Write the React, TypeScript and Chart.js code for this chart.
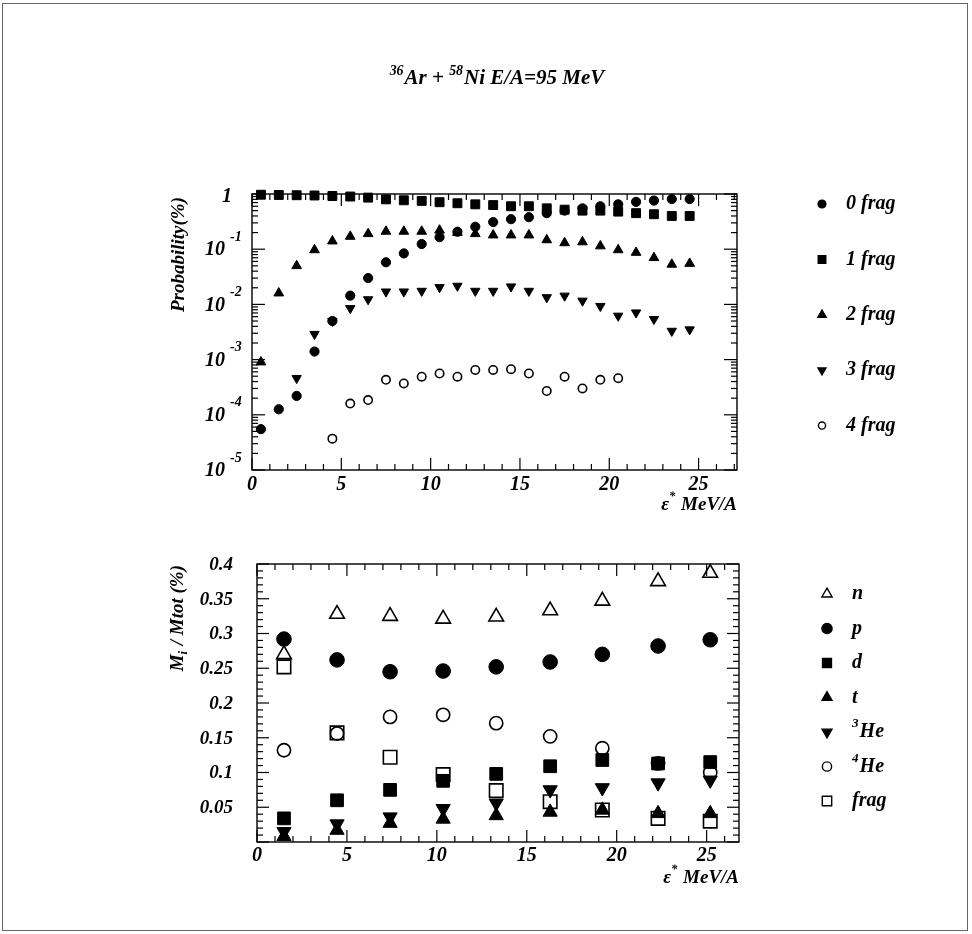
import React, { useEffect, useRef } from "react";
import { Chart, registerables } from "chart.js";
Chart.register(...registerables);

const FONT = '"Liberation Serif", "Times New Roman", serif';

// ---------- top panel data (probability vs excitation energy) ----------
const TOP_X = [0.5, 1.5, 2.5, 3.5, 4.5, 5.5, 6.5, 7.5, 8.5, 9.5, 10.5, 11.5, 12.5, 13.5, 14.5, 15.5, 16.5, 17.5, 18.5, 19.5, 20.5, 21.5, 22.5, 23.5, 24.5];
const FRAG_0 = [5.5e-5, 1.26e-4, 2.2e-4, 1.4e-3, 5.0e-3, 0.0144, 0.03, 0.058, 0.084, 0.124, 0.165, 0.207, 0.255, 0.31, 0.35, 0.38, 0.45, 0.5, 0.55, 0.6, 0.65, 0.72, 0.76, 0.81, 0.81];
const FRAG_1 = [0.97, 0.96, 0.95, 0.94, 0.92, 0.9, 0.86, 0.8, 0.77, 0.75, 0.71, 0.68, 0.65, 0.63, 0.6, 0.6, 0.55, 0.52, 0.5, 0.5, 0.48, 0.45, 0.43, 0.4, 0.4];
const FRAG_2 = [9e-4, 0.016, 0.05, 0.097, 0.14, 0.17, 0.19, 0.21, 0.21, 0.21, 0.22, 0.2, 0.19, 0.18, 0.18, 0.18, 0.147, 0.13, 0.135, 0.114, 0.097, 0.087, 0.07, 0.053, 0.055];
const FRAG_3 = [null, null, 4.6e-4, 2.9e-3, 5.0e-3, 8.5e-3, 0.0123, 0.017, 0.017, 0.0175, 0.0204, 0.0216, 0.0175, 0.0175, 0.021, 0.0175, 0.0134, 0.0143, 0.0116, 0.0093, 0.0062, 0.0071, 0.0054, 0.0033, 0.0035];
const FRAG_4 = [null, null, null, null, 3.7e-5, 1.6e-4, 1.85e-4, 4.3e-4, 3.7e-4, 4.9e-4, 5.6e-4, 4.9e-4, 6.5e-4, 6.5e-4, 6.7e-4, 5.6e-4, 2.7e-4, 4.9e-4, 3.0e-4, 4.3e-4, 4.6e-4, null, null, null, null];
const TOP_LABELS = ["0 frag", "1 frag", "2 frag", "3 frag", "4 frag"];
const TOP_X_TICKS = [0, 5, 10, 15, 20, 25];
const TOP_Y_EXPONENTS = [-1, -2, -3, -4, -5];

// ---------- bottom panel data (multiplicity fractions) ----------
const BOT_X = [1.5, 4.45, 7.4, 10.35, 13.3, 16.3, 19.2, 22.3, 25.2];
const M_N = [0.27, 0.328, 0.325, 0.321, 0.324, 0.333, 0.347, 0.375, 0.387];
const M_P = [0.292, 0.262, 0.245, 0.246, 0.252, 0.259, 0.27, 0.282, 0.291];
const M_D = [0.034, 0.06, 0.075, 0.088, 0.098, 0.109, 0.118, 0.113, 0.115];
const M_T = [0.008, 0.017, 0.027, 0.033, 0.038, 0.043, 0.046, 0.041, 0.041];
const M_HE3 = [0.015, 0.026, 0.036, 0.048, 0.056, 0.075, 0.078, 0.085, 0.089];
const M_HE4 = [0.132, 0.156, 0.18, 0.183, 0.171, 0.152, 0.135, 0.113, 0.1];
const M_FRAG = [0.252, 0.157, 0.122, 0.097, 0.074, 0.058, 0.046, 0.034, 0.03];
const BOT_LABELS = ["n", "p", "d", "t", "3He", "4He", "frag"];
const BOT_X_TICKS = [0, 5, 10, 15, 20, 25];
const BOT_Y_TICKS = [0.05, 0.1, 0.15, 0.2, 0.25, 0.3, 0.35, 0.4];
const BOT_Y_TICK_LABELS = ["0.05", "0.1", "0.15", "0.2", "0.25", "0.3", "0.35", "0.4"];

type Seg = { t: string; k?: "sup" | "sub" };

function segFont(size: number, k?: string) {
  const s = k ? size * 0.66 : size;
  return `italic bold ${s}px ${FONT}`;
}
function richWidth(ctx: CanvasRenderingContext2D, segs: Seg[], size: number) {
  let w = 0;
  for (const s of segs) {
    ctx.font = segFont(size, s.k);
    w += ctx.measureText(s.t).width + (s.k ? 1 : 0);
  }
  return w;
}
function drawRich(ctx: CanvasRenderingContext2D, segs: Seg[], x: number, y: number, size: number, align: "left" | "right" | "center") {
  const w = richWidth(ctx, segs, size);
  let cx = align === "left" ? x : align === "right" ? x - w : x - w / 2;
  ctx.textAlign = "left";
  for (const s of segs) {
    ctx.font = segFont(size, s.k);
    const dy = s.k === "sup" ? -size * 0.42 : s.k === "sub" ? size * 0.28 : 0;
    ctx.fillText(s.t, cx, y + dy);
    cx += ctx.measureText(s.t).width + (s.k ? 1 : 0);
  }
}
function labelSegs(label: string): Seg[] {
  if (/^\d[A-Z]/.test(label)) return [{ t: label[0], k: "sup" }, { t: label.slice(1) }];
  return [{ t: label }];
}

function drawMarker(ctx: CanvasRenderingContext2D, style: string, rot: number, x: number, y: number, r: number, filled: boolean, lw: number) {
  ctx.beginPath();
  if (style === "circle") {
    ctx.arc(x, y, r, 0, Math.PI * 2);
  } else if (style === "rect") {
    const s = r * Math.SQRT1_2;
    ctx.rect(x - s, y - s, 2 * s, 2 * s);
  } else {
    let rad = (rot * Math.PI) / 180;
    ctx.moveTo(x + Math.sin(rad) * r, y - Math.cos(rad) * r);
    rad += (2 * Math.PI) / 3;
    ctx.lineTo(x + Math.sin(rad) * r, y - Math.cos(rad) * r);
    rad += (2 * Math.PI) / 3;
    ctx.lineTo(x + Math.sin(rad) * r, y - Math.cos(rad) * r);
  }
  ctx.closePath();
  if (filled) {
    ctx.fillStyle = "#000";
    ctx.fill();
  }
  ctx.lineWidth = lw;
  ctx.strokeStyle = "#000";
  ctx.stroke();
}

type SeriesDef = { label: string; xs: number[]; ys: (number | null)[]; style: string; rot: number; r: number; filled: boolean };

function makeDataset(s: SeriesDef) {
  const pts: { x: number; y: number }[] = [];
  s.xs.forEach((x, i) => {
    const v = s.ys[i];
    if (v !== null && v !== undefined) pts.push({ x, y: v });
  });
  return {
    label: s.label,
    data: pts,
    showLine: false,
    clip: false as any,
    pointStyle: s.style === "tri" ? "triangle" : s.style,
    pointRotation: s.rot,
    pointRadius: s.r,
    pointBackgroundColor: s.filled ? "#000" : "rgba(0,0,0,0)",
    pointBorderColor: "#000",
    pointBorderWidth: s.filled ? 1 : 1.6,
    backgroundColor: s.filled ? "#000" : "rgba(0,0,0,0)",
    borderColor: "#000",
  };
}

function line(ctx: CanvasRenderingContext2D, x1: number, y1: number, x2: number, y2: number) {
  ctx.beginPath();
  ctx.moveTo(x1, y1);
  ctx.lineTo(x2, y2);
  ctx.stroke();
}

const TOP_SERIES: SeriesDef[] = [
  { label: TOP_LABELS[0], xs: TOP_X, ys: FRAG_0, style: "circle", rot: 0, r: 4.6, filled: true },
  { label: TOP_LABELS[1], xs: TOP_X, ys: FRAG_1, style: "rect", rot: 0, r: 6.3, filled: true },
  { label: TOP_LABELS[2], xs: TOP_X, ys: FRAG_2, style: "tri", rot: 0, r: 5.6, filled: true },
  { label: TOP_LABELS[3], xs: TOP_X, ys: FRAG_3, style: "tri", rot: 180, r: 5.4, filled: true },
  { label: TOP_LABELS[4], xs: TOP_X, ys: FRAG_4, style: "circle", rot: 0, r: 4.2, filled: false },
];

const BOT_SERIES: SeriesDef[] = [
  { label: BOT_LABELS[0], xs: BOT_X, ys: M_N, style: "tri", rot: 0, r: 8.5, filled: false },
  { label: BOT_LABELS[1], xs: BOT_X, ys: M_P, style: "circle", rot: 0, r: 7.3, filled: true },
  { label: BOT_LABELS[2], xs: BOT_X, ys: M_D, style: "rect", rot: 0, r: 9, filled: true },
  { label: BOT_LABELS[3], xs: BOT_X, ys: M_T, style: "tri", rot: 0, r: 8.2, filled: true },
  { label: BOT_LABELS[4], xs: BOT_X, ys: M_HE3, style: "tri", rot: 180, r: 8.2, filled: true },
  { label: BOT_LABELS[5], xs: BOT_X, ys: M_HE4, style: "circle", rot: 0, r: 6.6, filled: false },
  { label: BOT_LABELS[6], xs: BOT_X, ys: M_FRAG, style: "rect", rot: 0, r: 9.5, filled: false },
];

function xTitle(): Seg[] {
  return [{ t: "\u03b5" }, { t: "*", k: "sup" }, { t: " MeV/A" }];
}

const topFramePlugin = {
  id: "topFrame",
  beforeDatasetsDraw(chart: any) {
    const ctx: CanvasRenderingContext2D = chart.ctx;
    const { left, right, top, bottom } = chart.chartArea;
    const xs = chart.scales.x;
    const ys = chart.scales.y;
    ctx.save();
    ctx.strokeStyle = "#000";
    ctx.lineWidth = 1.4;
    ctx.strokeRect(left, top, right - left, bottom - top);
    ctx.lineWidth = 1.2;
    for (let v = 0; v <= 30; v++) {
      const px = xs.getPixelForValue(v);
      if (px > right - 1) break;
      const len = v % 5 === 0 ? 12 : 6;
      line(ctx, px, bottom, px, bottom - len);
      line(ctx, px, top, px, top + len);
    }
    for (let e = -5; e <= 0; e++) {
      for (let m = 1; m <= 9; m++) {
        const v = m * Math.pow(10, e);
        if (v > 1.0001) break;
        const py = ys.getPixelForValue(v);
        const len = m === 1 ? 13 : 6;
        line(ctx, left, py, left + len, py);
        line(ctx, right, py, right - len, py);
      }
    }
    ctx.restore();
  },
  afterDraw(chart: any) {
    const ctx: CanvasRenderingContext2D = chart.ctx;
    const { left, right, bottom } = chart.chartArea;
    const xs = chart.scales.x;
    const ys = chart.scales.y;
    ctx.save();
    ctx.fillStyle = "#000";
    // title
    ctx.textBaseline = "alphabetic";
    drawRich(ctx, [{ t: "36", k: "sup" }, { t: "Ar + " }, { t: "58", k: "sup" }, { t: "Ni E/A=95 MeV" }], 497, 84, 21, "center");
    // x tick labels
    ctx.textBaseline = "middle";
    for (const v of TOP_X_TICKS) {
      drawRich(ctx, [{ t: String(v) }], xs.getPixelForValue(v), bottom + 15, 20, "center");
    }
    // x title
    drawRich(ctx, xTitle(), right, bottom + 35, 19, "right");
    // y tick labels
    drawRich(ctx, [{ t: "1" }], left - 20, ys.getPixelForValue(1) + 3, 20, "right");
    for (const e of TOP_Y_EXPONENTS) {
      const py = ys.getPixelForValue(Math.pow(10, e));
      drawRich(ctx, [{ t: "10" }], left - 27, py + 1, 20, "right");
      ctx.font = `italic bold 14px ${FONT}`;
      ctx.textAlign = "left";
      ctx.fillText(String(e), left - 22, py - 12);
    }
    // y title
    ctx.save();
    ctx.translate(179, chart.chartArea.top + 3);
    ctx.rotate(-Math.PI / 2);
    ctx.textBaseline = "middle";
    drawRich(ctx, [{ t: "Probability(%)" }], 0, 0, 19, "right");
    ctx.restore();
    // legend
    chart.data.datasets.forEach((ds: any, i: number) => {
      const s = TOP_SERIES[i];
      const y = 204 + i * 55.4;
      drawMarker(ctx, s.style, s.rot, 822, y, s.r * 0.85, s.filled, 1.4);
      ctx.fillStyle = "#000";
      ctx.textBaseline = "middle";
      drawRich(ctx, labelSegs(ds.label), 846, y, 20, "left");
    });
    ctx.restore();
  },
};

const botFramePlugin = {
  id: "botFrame",
  beforeDatasetsDraw(chart: any) {
    const ctx: CanvasRenderingContext2D = chart.ctx;
    const { left, right, top, bottom } = chart.chartArea;
    const xs = chart.scales.x;
    const ys = chart.scales.y;
    ctx.save();
    ctx.strokeStyle = "#000";
    ctx.lineWidth = 1.4;
    ctx.strokeRect(left, top, right - left, bottom - top);
    ctx.lineWidth = 1.2;
    for (let v = 0; v <= 30; v++) {
      const px = xs.getPixelForValue(v);
      if (px > right - 1) break;
      const len = v % 5 === 0 ? 12 : 6;
      line(ctx, px, bottom, px, bottom - len);
      line(ctx, px, top, px, top + len);
    }
    for (let i = 0; i <= 40; i++) {
      const py = ys.getPixelForValue(i / 100);
      const len = i % 5 === 0 ? 12 : 6;
      line(ctx, left, py, left + len, py);
      line(ctx, right, py, right - len, py);
    }
    ctx.restore();
  },
  afterDraw(chart: any) {
    const ctx: CanvasRenderingContext2D = chart.ctx;
    const { left, right, top, bottom } = chart.chartArea;
    const xs = chart.scales.x;
    const ys = chart.scales.y;
    ctx.save();
    ctx.fillStyle = "#000";
    ctx.textBaseline = "middle";
    for (const v of BOT_X_TICKS) {
      drawRich(ctx, [{ t: String(v) }], xs.getPixelForValue(v), bottom + 14, 20, "center");
    }
    drawRich(ctx, xTitle(), right, bottom + 36, 19, "right");
    BOT_Y_TICKS.forEach((v, i) => {
      drawRich(ctx, [{ t: BOT_Y_TICK_LABELS[i] }], left - 24, ys.getPixelForValue(v) + 1, 19, "right");
    });
    ctx.save();
    ctx.translate(178, top + 1);
    ctx.rotate(-Math.PI / 2);
    ctx.textBaseline = "middle";
    drawRich(ctx, [{ t: "M" }, { t: "i", k: "sub" }, { t: " / Mtot (%)" }], 0, 0, 19, "right");
    ctx.restore();
    chart.data.datasets.forEach((ds: any, i: number) => {
      const s = BOT_SERIES[i];
      const y = 74 + i * 34.5;
      drawMarker(ctx, s.style, s.rot, 827, y, s.r * 0.7, s.filled, 1.4);
      ctx.fillStyle = "#000";
      ctx.textBaseline = "middle";
      drawRich(ctx, labelSegs(ds.label), 852, y, 20, "left");
    });
    ctx.restore();
  },
};

function baseOptions(padding: any, xMax: number, yScale: any) {
  return {
    animation: false as const,
    responsive: false,
    events: [] as any,
    layout: { padding },
    plugins: { legend: { display: false }, tooltip: { enabled: false }, title: { display: false } },
    scales: {
      x: { type: "linear" as const, min: 0, max: xMax, display: false },
      y: yScale,
    },
  };
}

export default function App() {
  const topRef = useRef<HTMLCanvasElement>(null);
  const botRef = useRef<HTMLCanvasElement>(null);

  useEffect(() => {
    const c1 = new Chart(topRef.current as HTMLCanvasElement, {
      type: "scatter",
      data: { datasets: TOP_SERIES.map(makeDataset) as any },
      options: baseOptions({ left: 252, top: 194, right: 235, bottom: 50 }, 27.15, {
        type: "logarithmic",
        min: 1e-5,
        max: 1,
        display: false,
      }) as any,
      plugins: [topFramePlugin],
    });
    const c2 = new Chart(botRef.current as HTMLCanvasElement, {
      type: "scatter",
      data: { datasets: BOT_SERIES.map(makeDataset) as any },
      options: baseOptions({ left: 257, top: 44, right: 233, bottom: 92 }, 26.8, {
        type: "linear",
        min: 0,
        max: 0.4,
        display: false,
      }) as any,
      plugins: [botFramePlugin],
    });
    return () => {
      c1.destroy();
      c2.destroy();
    };
  }, []);

  return (
    <div style={{ position: "absolute", left: 0, top: 0, width: 972, height: 934, background: "#fff", overflow: "hidden" }}>
      <div style={{ position: "absolute", left: 2, top: 3, width: 966, height: 928, border: "1px solid #666", boxSizing: "border-box" }} />
      <canvas ref={topRef} width={972} height={520} style={{ position: "absolute", left: 0, top: 0, width: 972, height: 520 }} />
      <canvas ref={botRef} width={972} height={414} style={{ position: "absolute", left: 0, top: 520, width: 972, height: 414 }} />
    </div>
  );
}
